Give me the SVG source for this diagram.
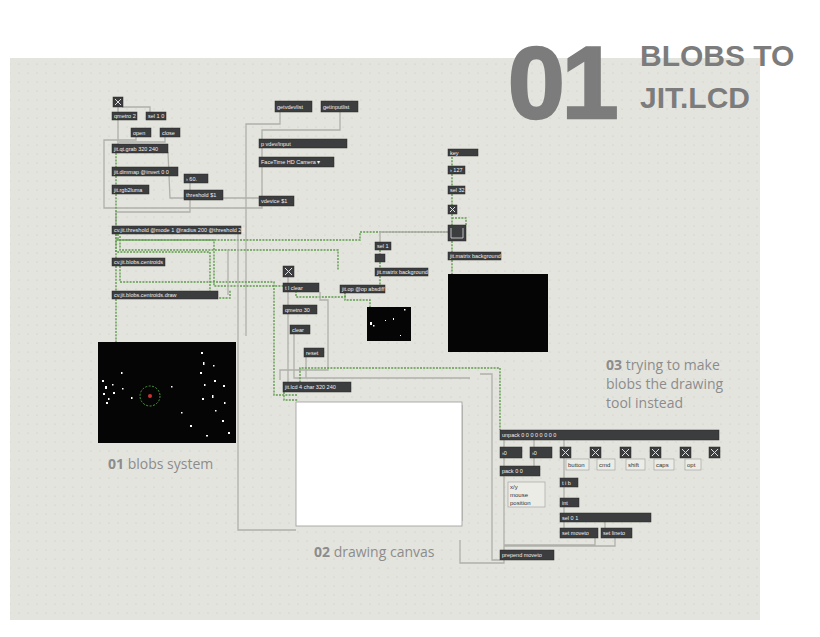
<svg xmlns="http://www.w3.org/2000/svg" width="820" height="637" viewBox="0 0 820 637">
<defs>
<pattern id="dots" width="9" height="9" patternUnits="userSpaceOnUse"><circle cx="1" cy="1" r="0.6" fill="#c4c4bc"/></pattern>
<style>
.b{fill:#3c3d3f;stroke:#2a2a2a;stroke-width:0.5}
.t{font-family:"Liberation Sans",Arial,sans-serif;font-size:5.5px;fill:#f0f0f0}
.lt{font-family:"Liberation Sans",Arial,sans-serif;font-size:6px;fill:#333}
.lb{fill:#ecece6;stroke:#999;stroke-width:0.6}
.g{fill:none;stroke:#5e9c4c;stroke-width:1.4;stroke-dasharray:2 1.2}
.w{fill:none;stroke:#b0b0aa;stroke-width:1.3}
.tg{fill:#3c3d3f;stroke:#2a2a2a;stroke-width:0.5}
.x{stroke:#ddd;stroke-width:1}
.cap{font-family:"Open Sans","Liberation Sans",sans-serif;font-size:14px;fill:#8c8c8c}
</style>
</defs>
<rect width="820" height="637" fill="#ffffff"/>
<rect x="10" y="58" width="750" height="562" fill="#e4e4de"/>
<rect x="10" y="58" width="750" height="562" fill="url(#dots)"/>
<text x="508" y="118" font-family="Liberation Sans,Arial,sans-serif" font-weight="bold" font-size="102" fill="#7c7c7c" letter-spacing="-3" stroke="#7c7c7c" stroke-width="2.5">01</text>
<text x="640" y="58" font-family="Liberation Sans,Arial,sans-serif" font-weight="bold" font-size="30" fill="#7c7c7c" dominant-baseline="middle">BLOBS TO</text>
<text x="640" y="100" font-family="Liberation Sans,Arial,sans-serif" font-weight="bold" font-size="30" fill="#7c7c7c" dominant-baseline="middle">JIT.LCD</text>
<g id="connectors">
<path class="w" d="M118 107V112M118 120V144M122 107H150V112"/>
<path class="w" d="M136 137V140H104V208H262V204"/>
<path class="w" d="M165 137V142H119"/>
<path class="w" d="M280 112V124H246V336M340 112V130H262V139"/>
<path class="w" d="M262 148V157M262 167V196"/>
<path class="w" d="M168 152L170 198H262"/>
<path class="w" d="M190 182V190M190 199V212H116V226"/>
<path class="g" d="M116 153V167M116 176V185M116 194V226M116 234V258M116 266V291M116 299V342"/>
<path class="g" d="M116 234V252H210V292M116 234V240H214V286H296V297H345V285"/>
<path class="g" d="M118 234V240H360V232H450"/>
<path class="g" d="M120 236V250H338V270M120 266V282H274V395H298"/>
<path class="g" d="M216 298H230V290"/>
<path class="w" d="M228 250V295M238 230V530H296"/>
<path class="w" d="M380 242V232H448"/>
<path class="g" d="M380 250V254M380 262V268M380 276V285M345 292V300H370V307"/>
<path class="g" d="M452 157V166M452 174V186M452 194V205M452 214V225M452 241V252M452 260V274M466 225V218H452"/>
<path class="w" d="M288 277V283M288 292V305M288 314V382M294 334V378H306V357M320 292V300H328V370H280V380M296 378H470"/>
<path class="g" d="M284 392V400H298M300 392V368H500V430"/>
<path class="w" d="M480 374H492V560H500M462 521V405"/>
<path class="w" d="M504 440V447M534 440V447M564 440V447M504 458V466M534 458V466M564 458V478M564 487V498M564 507V513M564 521V528M605 521V528"/>
<path class="w" d="M504 474V550M595 536V545H504M615 536V546H504"/>
<path class="w" d="M504 558V563H460V540"/>
</g>
<g id="nodes">
<rect class="tg" x="113" y="97" width="10" height="10"/><path class="x" d="M115 99l6 6M121 99l-6 6"/>
<g id="n1"><rect class="b" x="112" y="112" width="25" height="8"/><text class="t" x="114" y="118">qmetro 2</text></g>
<g id="n2"><rect class="b" x="146" y="112" width="20" height="8"/><text class="t" x="148" y="118">sel 1 0</text></g>
<g id="n3"><rect class="b" x="131" y="128" width="20" height="9"/><text class="t" x="133" y="134.5">open</text></g>
<g id="n4"><rect class="b" x="160" y="128" width="20" height="9"/><text class="t" x="162" y="134.5">close</text></g>
<g id="n5"><rect class="b" x="112" y="144" width="56" height="9"/><text class="t" x="114" y="150.5">jit.qt.grab 320 240</text></g>
<g id="n6"><rect class="b" x="112" y="167" width="66" height="9"/><text class="t" x="114" y="173.5">jit.dimmap @invert 0 0</text></g>
<g id="n7"><rect class="b" x="184" y="174" width="24" height="9"/><text class="t" x="186" y="180.5">› 60.</text></g>
<g id="n8"><rect class="b" x="112" y="185" width="37" height="9"/><text class="t" x="114" y="191.5">jit.rgb2luma</text></g>
<g id="n9"><rect class="b" x="184" y="190" width="39" height="10"/><text class="t" x="186" y="197">threshold $1</text></g>
<g id="n10"><rect class="b" x="275" y="101" width="37" height="11"/><text class="t" x="277" y="108.5">getvdevlist</text></g>
<g id="n11"><rect class="b" x="321" y="101" width="37" height="11"/><text class="t" x="323" y="108.5">getinputlist</text></g>
<g id="n12"><rect class="b" x="259" y="139" width="88" height="9"/><text class="t" x="261" y="145.5">p vdev/input</text></g>
<g id="n13"><rect class="b" x="259" y="157" width="75" height="10"/><text class="t" x="261" y="164">FaceTime HD Camera ▾</text></g>
<g id="n14"><rect class="b" x="259" y="196" width="35" height="10"/><text class="t" x="261" y="203">vdevice $1</text></g>
<g id="n15"><rect class="b" x="112" y="226" width="129" height="8"/><text class="t" x="114" y="232" font-size="4.5">cv.jit.threshold @mode 1 @radius 200 @threshold 20</text></g>
<g id="n16"><rect class="b" x="112" y="258" width="53" height="8"/><text class="t" x="114" y="264" font-size="4.5">cv.jit.blobs.centroids</text></g>
<g id="n17"><rect class="b" x="112" y="291" width="106" height="8"/><text class="t" x="114" y="297" font-size="4.5">cv.jit.blobs.centroids.draw</text></g>
<rect class="tg" x="283" y="266" width="11" height="11"/><path class="x" d="M285 268l7 7M292 268l-7 7"/>
<g id="n18"><rect class="b" x="283" y="283" width="36" height="9"/><text class="t" x="285" y="290">t l clear</text></g>
<g id="n19"><rect class="b" x="283" y="305" width="34" height="9"/><text class="t" x="285" y="312">qmetro 30</text></g>
<g id="n20"><rect class="b" x="290" y="325" width="20" height="9"/><text class="t" x="292" y="332">clear</text></g>
<g id="n21"><rect class="b" x="304" y="348" width="20" height="9"/><text class="t" x="306" y="355">reset</text></g>
<g id="n22"><rect class="b" x="283" y="382" width="68" height="10"/><text class="t" x="285" y="389">jit.lcd 4 char 320 240</text></g>
<g id="n23"><rect class="b" x="448" y="149" width="30" height="7"/><text class="t" x="450" y="154.5" font-size="4.5">key</text></g>
<g id="n24"><rect class="b" x="448" y="166" width="17" height="8"/><text class="t" x="450" y="172" font-size="4.5">› 127</text></g>
<g id="n25"><rect class="b" x="448" y="186" width="17" height="8"/><text class="t" x="450" y="192" font-size="4.5">sel 32</text></g>
<rect class="tg" x="448" y="205" width="9" height="9"/><path class="x" d="M450 207l5 5M455 207l-5 5"/>
<g id="n26"><rect class="b" x="448" y="225" width="18" height="16"/><path d="M451 228V238H463V228" fill="none" stroke="#ddd" stroke-width="0.8"/></g>
<g id="n27"><rect class="b" x="448" y="252" width="53" height="8"/><text class="t" x="450" y="258" font-size="4.5">jit.matrix background</text></g>
<g id="n28"><rect class="b" x="375" y="242" width="16" height="8"/><text class="t" x="377" y="248" font-size="4.5">sel 1</text></g>
<rect class="b" x="375" y="254" width="10" height="8"/>
<g id="n29"><rect class="b" x="375" y="268" width="53" height="8"/><text class="t" x="377" y="274" font-size="4.5">jit.matrix background</text></g>
<g id="n30"><rect class="b" x="340" y="285" width="45" height="8"/><text class="t" x="342" y="291" font-size="4.5">jit.op @op absdiff</text></g>
<rect x="367" y="307" width="44" height="34" fill="#050505"/>
<g fill="#fff"><rect x="370" y="322" width="2" height="3"/><rect x="373" y="325" width="1.5" height="1.5"/><rect x="404" y="309" width="1.5" height="1.5"/><rect x="393" y="318" width="1" height="2"/><rect x="385" y="320" width="1" height="1"/><rect x="400" y="335" width="1" height="1"/></g>
<rect x="448" y="274" width="100" height="78" fill="#050505"/>
<rect x="98" y="342" width="138" height="101" fill="#050505"/>
<g fill="#fff">
<rect x="102" y="380" width="2" height="2"/><rect x="105" y="386" width="2" height="3"/><rect x="103" y="393" width="2" height="2"/><rect x="108" y="398" width="1.5" height="2"/><rect x="112" y="384" width="1.5" height="1.5"/><rect x="113" y="392" width="2" height="2"/><rect x="106" y="402" width="2" height="2"/><rect x="121" y="372" width="1.5" height="2"/><rect x="122" y="388" width="1.5" height="1.5"/>
<rect x="201" y="352" width="2" height="2"/><rect x="203" y="362" width="1.5" height="3"/><rect x="200" y="372" width="2" height="2"/><rect x="204" y="384" width="1.5" height="2"/><rect x="202" y="398" width="2" height="2"/><rect x="213" y="365" width="1.5" height="1.5"/><rect x="214" y="380" width="2" height="2"/><rect x="212" y="395" width="1.5" height="3"/><rect x="215" y="410" width="1.5" height="1.5"/><rect x="223" y="385" width="2" height="2"/><rect x="224" y="402" width="1.5" height="2"/><rect x="222" y="420" width="2" height="2"/><rect x="190" y="425" width="2" height="2"/><rect x="181" y="412" width="1.5" height="1.5"/><rect x="171" y="386" width="1.5" height="1.5"/><rect x="131" y="397" width="1.5" height="2"/><rect x="228" y="432" width="2" height="2"/><rect x="206" y="435" width="2" height="1.5"/>
</g>
<circle cx="150" cy="396" r="10" fill="none" stroke="#4a9a40" stroke-width="1" stroke-dasharray="2 1.5"/>
<circle cx="150" cy="396" r="2" fill="#c33"/>
<rect x="296" y="402" width="166" height="124" fill="#ffffff" stroke="#999" stroke-width="0.8"/>
<g id="n31"><rect class="b" x="500" y="430" width="219" height="10"/><text class="t" x="502" y="437">unpack 0 0 0 0 0 0 0 0</text></g>
<g id="n32"><rect class="b" x="500" y="447" width="22" height="11"/><text class="t" x="502" y="454.5">›0</text></g>
<g id="n33"><rect class="b" x="530" y="447" width="22" height="11"/><text class="t" x="532" y="454.5">›0</text></g>
<g id="tgls">
<rect class="tg" x="560" y="447" width="11" height="11"/><path class="x" d="M562 449l7 7M569 449l-7 7"/>
<rect class="tg" x="590" y="447" width="11" height="11"/><path class="x" d="M592 449l7 7M599 449l-7 7"/>
<rect class="tg" x="620" y="447" width="11" height="11"/><path class="x" d="M622 449l7 7M629 449l-7 7"/>
<rect class="tg" x="650" y="447" width="11" height="11"/><path class="x" d="M652 449l7 7M659 449l-7 7"/>
<rect class="tg" x="680" y="447" width="11" height="11"/><path class="x" d="M682 449l7 7M689 449l-7 7"/>
<rect class="tg" x="709" y="447" width="11" height="11"/><path class="x" d="M711 449l7 7M718 449l-7 7"/>
</g>
<g id="lbls">
<rect class="lb" x="566" y="459" width="23" height="11"/><text class="lt" x="568" y="467">button</text>
<rect class="lb" x="597" y="459" width="18" height="11"/><text class="lt" x="599" y="467">cmd</text>
<rect class="lb" x="626" y="459" width="19" height="11"/><text class="lt" x="628" y="467">shift</text>
<rect class="lb" x="654" y="459" width="20" height="11"/><text class="lt" x="656" y="467">caps</text>
<rect class="lb" x="685" y="459" width="16" height="11"/><text class="lt" x="687" y="467">opt</text>
<rect class="lb" x="508" y="482" width="37" height="25"/><text class="lt" x="510" y="489">x/y</text><text class="lt" x="510" y="497">mouse</text><text class="lt" x="510" y="505">position</text>
</g>
<g id="n34"><rect class="b" x="500" y="466" width="40" height="10"/><text class="t" x="502" y="473">pack 0 0</text></g>
<g id="n35"><rect class="b" x="560" y="478" width="18" height="9"/><text class="t" x="562" y="485">t i b</text></g>
<g id="n36"><rect class="b" x="560" y="498" width="19" height="9"/><text class="t" x="562" y="505">int</text></g>
<g id="n37"><rect class="b" x="560" y="513" width="91" height="9"/><text class="t" x="562" y="520">sel 0 1</text></g>
<g id="n38"><rect class="b" x="560" y="528" width="38" height="10"/><text class="t" x="562" y="535">set moveto</text></g>
<g id="n39"><rect class="b" x="601" y="528" width="31" height="10"/><text class="t" x="603" y="535">set lineto</text></g>
<g id="n40"><rect class="b" x="500" y="550" width="54" height="10"/><text class="t" x="502" y="557">prepend moveto</text></g>
</g>
<text class="cap" x="108" y="469"><tspan font-weight="bold">01</tspan> blobs system</text>
<text class="cap" x="314" y="557"><tspan font-weight="bold">02</tspan> drawing canvas</text>
<text class="cap" x="606" y="370"><tspan font-weight="bold">03</tspan> trying to make</text>
<text class="cap" x="606" y="389">blobs the drawing</text>
<text class="cap" x="606" y="408">tool instead</text>
</svg>
